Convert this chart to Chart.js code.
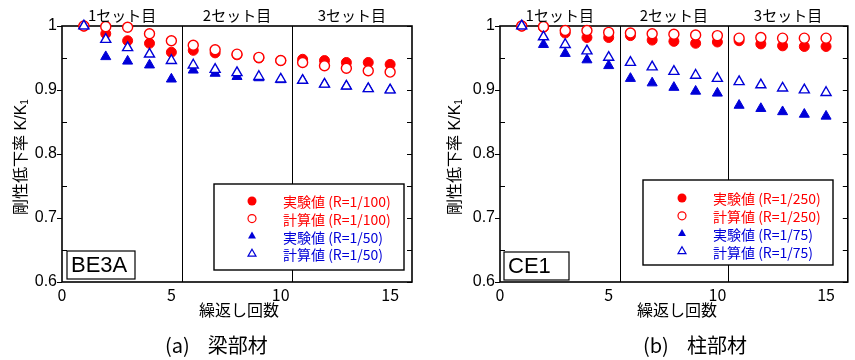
<!DOCTYPE html>
<html>
<head>
<meta charset="utf-8">
<script src="https://cdn.jsdelivr.net/npm/chart.js@4/dist/chart.umd.min.js"></script>
<style>
  html, body { margin: 0; padding: 0; background: #fff; }
  #wrap { position: relative; width: 855px; height: 360px; overflow: hidden; }
  #wrap canvas { position: absolute; left: 0; top: 0; }
</style>
</head>
<body>
<div id="wrap">
  <canvas id="beam" width="855" height="360"></canvas>
  <canvas id="col" width="855" height="360"></canvas>
</div>
<script>
// Loading cycle number (x)
const cycles = [1, 2, 3, 4, 5, 6, 7, 8, 9, 10, 11, 12, 13, 14, 15];

// (a) beam BE3A: stiffness ratio K/K1
const beamExp100  = [1.000, 0.988, 0.977, 0.973, 0.959, 0.962, 0.958, 0.955, 0.950, 0.946, 0.948, 0.946, 0.943, 0.943, 0.940];
const beamCalc100 = [1.000, 0.999, 0.998, 0.988, 0.977, 0.970, 0.963, 0.956, 0.951, 0.946, 0.943, 0.938, 0.934, 0.930, 0.928];
const beamExp50   = [1.000, 0.952, 0.945, 0.939, 0.917, 0.931, 0.926, 0.921, 0.919, 0.916, 0.915, 0.909, 0.906, 0.902, 0.900];
const beamCalc50  = [1.000, 0.979, 0.966, 0.956, 0.946, 0.939, 0.932, 0.927, 0.921, 0.917, 0.915, 0.909, 0.906, 0.902, 0.900];

// (b) column CE1: stiffness ratio K/K1
const colExp250  = [1.000, 0.998, 0.989, 0.982, 0.982, 0.985, 0.978, 0.976, 0.973, 0.975, 0.977, 0.972, 0.969, 0.968, 0.968];
const colCalc250 = [1.000, 0.999, 0.993, 0.993, 0.990, 0.989, 0.988, 0.987, 0.986, 0.985, 0.981, 0.982, 0.981, 0.981, 0.981];
const colExp75   = [1.000, 0.971, 0.957, 0.947, 0.938, 0.918, 0.911, 0.904, 0.898, 0.895, 0.876, 0.871, 0.866, 0.862, 0.859];
const colCalc75  = [1.000, 0.983, 0.971, 0.961, 0.951, 0.943, 0.936, 0.929, 0.923, 0.918, 0.913, 0.908, 0.903, 0.900, 0.896];

// Axis ticks
const xTicks = [0, 5, 10, 15];
const yTicks = [0.6, 0.7, 0.8, 0.9, 1.0];
const yMinor = [0.65, 0.75, 0.85, 0.95];

// Loading sets: boundaries and headings
const setBounds = [0, 5.5, 10.5, 16];
const setLabels = ['1セット目', '2セット目', '3セット目'];

const RED = '#ff0000';
const BLUE = '#0000d8';
const NARROW = '"Liberation Sans Narrow", "Noto Sans CJK JP", sans-serif';
const SANS = '"Liberation Sans", "Noto Sans CJK JP", sans-serif';
const CJK = '"Noto Sans CJK JP", sans-serif';

const pts = vals => cycles.map((c, i) => ({ x: c, y: vals[i] }));

function series(label, vals, color, style, filled, order) {
  const tri = style === 'triangle';
  return {
    label,
    data: pts(vals),
    pointStyle: style,
    pointRadius: tri ? 5.8 : 5,
    pointBorderWidth: filled ? 1 : 1.4,
    pointBackgroundColor: filled ? color : '#ffffff',
    pointBorderColor: color,
    showLine: false,
    clip: false,
    order
  };
}

function drawMarker(ctx, style, filled, color, x, y, r) {
  ctx.beginPath();
  if (style === 'circle') {
    ctx.arc(x, y, r, 0, Math.PI * 2);
  } else {
    const w = r * Math.sqrt(3);
    ctx.moveTo(x, y - r);
    ctx.lineTo(x + w / 2, y + r / 2);
    ctx.lineTo(x - w / 2, y + r / 2);
    ctx.closePath();
  }
  if (filled) { ctx.fillStyle = color; ctx.fill(); }
  else { ctx.fillStyle = '#fff'; ctx.fill(); ctx.lineWidth = 1.2; ctx.strokeStyle = color; ctx.stroke(); }
}

const deco = {
  id: 'deco',
  beforeDatasetsDraw(chart, args, o) {
    const { ctx, chartArea: a, scales: { x, y } } = chart;
    ctx.save();
    ctx.strokeStyle = '#000';
    // set separators
    ctx.lineWidth = 1;
    setBounds.slice(1, -1).forEach(v => {
      const px = Math.round(x.getPixelForValue(v)) + 0.5;
      ctx.beginPath(); ctx.moveTo(px, a.top); ctx.lineTo(px, a.bottom); ctx.stroke();
    });
    // y tick marks: major outside on the left, minor inside, mirrored on the right
    yTicks.forEach(v => {
      const py = Math.round(y.getPixelForValue(v)) + 0.5;
      ctx.beginPath(); ctx.moveTo(a.left - 5, py); ctx.lineTo(a.left, py);
      ctx.moveTo(a.right - 5, py); ctx.lineTo(a.right, py); ctx.stroke();
    });
    yMinor.forEach(v => {
      const py = Math.round(y.getPixelForValue(v)) + 0.5;
      ctx.beginPath(); ctx.moveTo(a.left, py); ctx.lineTo(a.left + 5, py);
      ctx.moveTo(a.right - 5, py); ctx.lineTo(a.right, py); ctx.stroke();
    });
    // frame
    ctx.lineWidth = 1.6;
    ctx.strokeRect(a.left, a.top, a.right - a.left, a.bottom - a.top);
    ctx.restore();
  },
  afterDatasetsDraw(chart, args, o) {
    const { ctx, chartArea: a, scales: { x } } = chart;
    ctx.save();
    // set headings
    ctx.fillStyle = '#000';
    ctx.font = '15px ' + NARROW;
    ctx.textAlign = 'center';
    ctx.textBaseline = 'middle';
    setLabels.forEach((t, i) => {
      const cx = (x.getPixelForValue(setBounds[i]) + x.getPixelForValue(setBounds[i + 1])) / 2;
      ctx.fillText(t, cx, 15);
    });

    // legend
    const L = o.legend;
    ctx.fillStyle = '#fff';
    ctx.fillRect(L.x, L.y, L.w, L.h);
    ctx.lineWidth = 1.4;
    ctx.strokeStyle = '#000';
    ctx.strokeRect(L.x, L.y, L.w, L.h);
    ctx.font = '14px ' + NARROW;
    ctx.textAlign = 'left';
    chart.data.datasets.forEach((ds, i) => {
      const ry = L.row0 + i * L.dy;
      const filled = ds.pointBackgroundColor !== '#ffffff';
      const st = ds.pointStyle;
      drawMarker(ctx, st, filled, ds.pointBorderColor, L.mx, ry, st === 'circle' ? (filled ? 4.5 : 4) : 4.6);
      ctx.fillStyle = ds.pointBorderColor;
      ctx.fillText(ds.label, L.tx, ry + 1);
    });

    // specimen tag
    const T = o.tag;
    ctx.fillStyle = '#fff';
    ctx.fillRect(T.x, T.y, T.w, T.h);
    ctx.lineWidth = 1.2;
    ctx.strokeStyle = '#000';
    ctx.strokeRect(T.x, T.y, T.w, T.h);
    ctx.fillStyle = '#000';
    ctx.font = '22px ' + SANS;
    ctx.textAlign = 'left';
    ctx.fillText(T.text, T.x + 4, T.y + T.h / 2 + 1);

    // y axis title (rotated)
    ctx.save();
    ctx.translate(o.yTitleX, (a.top + a.bottom) / 2 + 3);
    ctx.rotate(-Math.PI / 2);
    ctx.font = '16px ' + SANS;
    const main = '剛性低下率 K/K';
    const wMain = ctx.measureText(main).width;
    ctx.font = '10px ' + SANS;
    const wSub = ctx.measureText('1').width;
    const x0 = -(wMain + wSub) / 2;
    ctx.font = '16px ' + SANS;
    ctx.textAlign = 'left';
    ctx.fillStyle = '#000';
    ctx.fillText(main, x0, 0);
    ctx.font = '10px ' + SANS;
    ctx.fillText('1', x0 + wMain, 3);
    ctx.restore();

    // x axis title
    ctx.font = '16px ' + CJK;
    ctx.textAlign = 'center';
    ctx.fillStyle = '#000';
    ctx.fillText('繰返し回数', o.xTitleX, 310);

    // caption
    ctx.textAlign = 'left';
    ctx.font = '20px ' + NARROW;
    ctx.fillText(o.capTag, o.capX, 345);
    const wt = ctx.measureText(o.capTag).width;
    ctx.font = '20px ' + CJK;
    ctx.fillText(o.capText, o.capX + wt + 18, 345);
    ctx.restore();
  }
};

function makeChart(id, datasets, area, plugin) {
  return new Chart(document.getElementById(id), {
    type: 'scatter',
    data: { datasets },
    plugins: [plugin],
    options: {
      responsive: false,
      animation: false,
      events: [],
      layout: { padding: { left: area.left - 62, right: 855 - area.right, top: 26, bottom: 0 } },
      plugins: { legend: { display: false }, tooltip: { enabled: false }, deco: area.deco },
      scales: {
        x: {
          type: 'linear', min: 0, max: 16,
          afterFit: s => { s.height = 78; },
          afterBuildTicks: s => { s.ticks = xTicks.map(v => ({ value: v })); },
          grid: { display: false, drawTicks: false },
          border: { display: false },
          ticks: { padding: 3, color: '#000', font: { family: NARROW, size: 16 }, maxRotation: 0, autoSkip: false }
        },
        y: {
          type: 'linear', min: 0.6, max: 1.0,
          afterFit: s => { s.width = 62; },
          afterBuildTicks: s => { s.ticks = yTicks.map(v => ({ value: v })); },
          grid: { display: false, drawTicks: false },
          border: { display: false },
          ticks: { padding: 5, color: '#000', font: { family: SANS, size: 16 },
                   callback: v => String(+v.toFixed(2)) }
        }
      }
    }
  });
}

makeChart('beam', [
  series('実験値 (R=1/100)', beamExp100, RED, 'circle', true, 3),
  series('計算値 (R=1/100)', beamCalc100, RED, 'circle', false, 2),
  series('実験値 (R=1/50)', beamExp50, BLUE, 'triangle', true, 1),
  series('計算値 (R=1/50)', beamCalc50, BLUE, 'triangle', false, 0)
], {
  left: 62, right: 412,
  deco: {
    legend: { x: 214, y: 184, w: 190, h: 86, mx: 252, tx: 283, row0: 201, dy: 17.6 },
    tag: { x: 67, y: 251, w: 68, h: 28, text: 'BE3A' },
    yTitleX: 22, xTitleX: 239, capX: 165, capTag: '(a)', capText: '梁部材'
  }
}, deco);

makeChart('col', [
  series('実験値 (R=1/250)', colExp250, RED, 'circle', true, 3),
  series('計算値 (R=1/250)', colCalc250, RED, 'circle', false, 2),
  series('実験値 (R=1/75)', colExp75, BLUE, 'triangle', true, 1),
  series('計算値 (R=1/75)', colCalc75, BLUE, 'triangle', false, 0)
], {
  left: 500, right: 852,
  deco: {
    legend: { x: 643, y: 180, w: 190, h: 85, mx: 682, tx: 713, row0: 198, dy: 17.8 },
    tag: { x: 504, y: 252, w: 65, h: 28, text: 'CE1' },
    yTitleX: 456, xTitleX: 677, capX: 643, capTag: '(b)', capText: '柱部材'
  }
}, deco);
</script>
</body>
</html>
